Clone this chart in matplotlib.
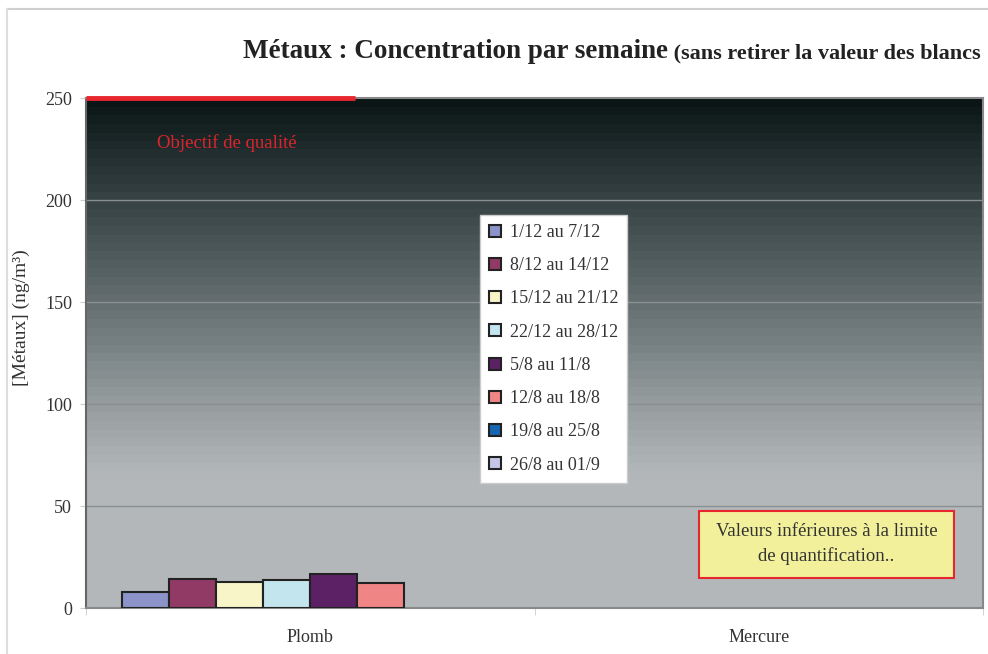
import numpy as np
import matplotlib.pyplot as plt
from matplotlib.colors import LinearSegmentedColormap
from matplotlib.patches import Rectangle
from matplotlib.lines import Line2D

plt.rcParams['font.family'] = ['Liberation Serif', 'DejaVu Serif']

categories = ["Plomb", "Mercure"]
weeks = ["1/12 au 7/12", "8/12 au 14/12", "15/12 au 21/12", "22/12 au 28/12",
         "5/8 au 11/8", "12/8 au 18/8", "19/8 au 25/8", "26/8 au 01/9"]
plomb = [8.0, 14.1, 12.9, 13.9, 16.7, 12.3, np.nan, np.nan]
mercure = [np.nan] * 8
objectif = 250

colors = ["#8b93c8", "#923a66", "#f8f6c8", "#c3e5ee",
          "#5c2065", "#f08585", "#1565b0", "#c4c6e8"]

fig = plt.figure(figsize=(9.88, 6.54), dpi=100)
ax = fig.add_axes([0.087, 0.0703, 0.908, 0.7797])

# banded grey gradient background
cmap = LinearSegmentedColormap.from_list("bg", [
    (0.0, "#b3b7ba"), (0.25, "#b3b7ba"), (0.30, "#a9aeb0"), (0.40, "#949b9d"),
    (0.50, "#7a8385"), (0.60, "#636d6f"), (0.70, "#4b5758"), (0.80, "#354142"),
    (0.90, "#1e2a2b"), (1.0, "#081212")])
levels = np.floor(np.linspace(0, 1, 500) * 60) / 60
ax.imshow(levels[:, None], cmap=cmap, aspect="auto", origin="lower",
          extent=[-0.5, 1.5, 0, 250], zorder=0, interpolation="nearest")

x = np.arange(len(categories))
width = 0.1047
for i, (lab, col) in enumerate(zip(weeks, colors)):
    vals = [plomb[i], mercure[i]]
    ax.bar(x + (i - 3.5) * width, vals, width, color=col, edgecolor="#222222",
           linewidth=1.5, label=lab, zorder=3)

ax.set_xlim(-0.5, 1.5)
ax.set_ylim(0, 250)
ax.set_yticks([0, 50, 100, 150, 200, 250])
for y in [50, 100, 150, 200]:
    ax.axhline(y, color="#8a8f92", lw=1, zorder=1)

ax.set_xticks(x)
ax.set_xticklabels(categories, fontsize=13, color="#333333")
ax.set_xticks([-0.5, 0.5, 1.5], minor=True)
ax.tick_params(axis="x", which="major", length=0, pad=15)
ax.tick_params(axis="x", which="minor", length=5, color="#cccccc", direction="out")
ax.tick_params(axis="y", length=4, color="#cccccc", labelsize=13,
               labelcolor="#333333", pad=6)

for s in ax.spines.values():
    s.set_color("#888888")
    s.set_linewidth(1.5)
ax.spines["left"].set_color("#666666")

ax.set_ylabel("[Métaux] (ng/m³)", fontsize=14, color="#333333")
ax.yaxis.set_label_coords(-0.062, 0.569)

# objectif de qualite
ax.plot([-0.5, 0.1], [objectif, objectif], color="#e8262d", lw=3.5,
        solid_capstyle="butt", clip_on=False, zorder=5)
ax.text(0.079, 0.912, "Objectif de qualité", transform=ax.transAxes,
        color="#d9262c", fontsize=13.5, va="center", ha="left")

leg = ax.legend(loc="upper left", bbox_to_anchor=(0.439, 0.771), borderaxespad=0,
                fontsize=13, frameon=True, fancybox=False, handlelength=0.65,
                handleheight=0.65, labelspacing=0.9, handletextpad=0.5,
                borderpad=0.5)
leg.get_frame().set_edgecolor("#cccccc")
leg.get_frame().set_facecolor("white")
leg.get_frame().set_alpha(1)
for t in leg.get_texts():
    t.set_color("#333333")
leg.set_zorder(6)

# note box
ax.add_patch(Rectangle((0.683, 0.0588), 0.285, 0.131, transform=ax.transAxes,
                       facecolor="#f3f09b", edgecolor="#e8262d", lw=1.5, zorder=6))
ax.text(0.8255, 0.1255, "Valeurs inférieures à la limite\nde quantification..",
        transform=ax.transAxes, ha="center", va="center", fontsize=13.5,
        color="#333333", linespacing=1.45, zorder=7)

# title
t1 = fig.text(0.246, 0.912, "Métaux : Concentration par semaine", fontsize=19.5,
              fontweight="bold", color="#222222", ha="left", va="baseline")
fig.canvas.draw()
ax.annotate(" (sans retirer la valeur des blancs", xy=(1, 0), xycoords=t1,
            fontsize=16, fontweight="bold", color="#222222",
            ha="left", va="bottom", annotation_clip=False)

# outer frame lines
fig.add_artist(Line2D([0.007, 1], [0.986, 0.986], color="#cfcfcf", lw=1.5))
fig.add_artist(Line2D([0.007, 0.007], [0, 0.986], color="#dddddd", lw=1.5))

fig.savefig("out.png", dpi=100)
